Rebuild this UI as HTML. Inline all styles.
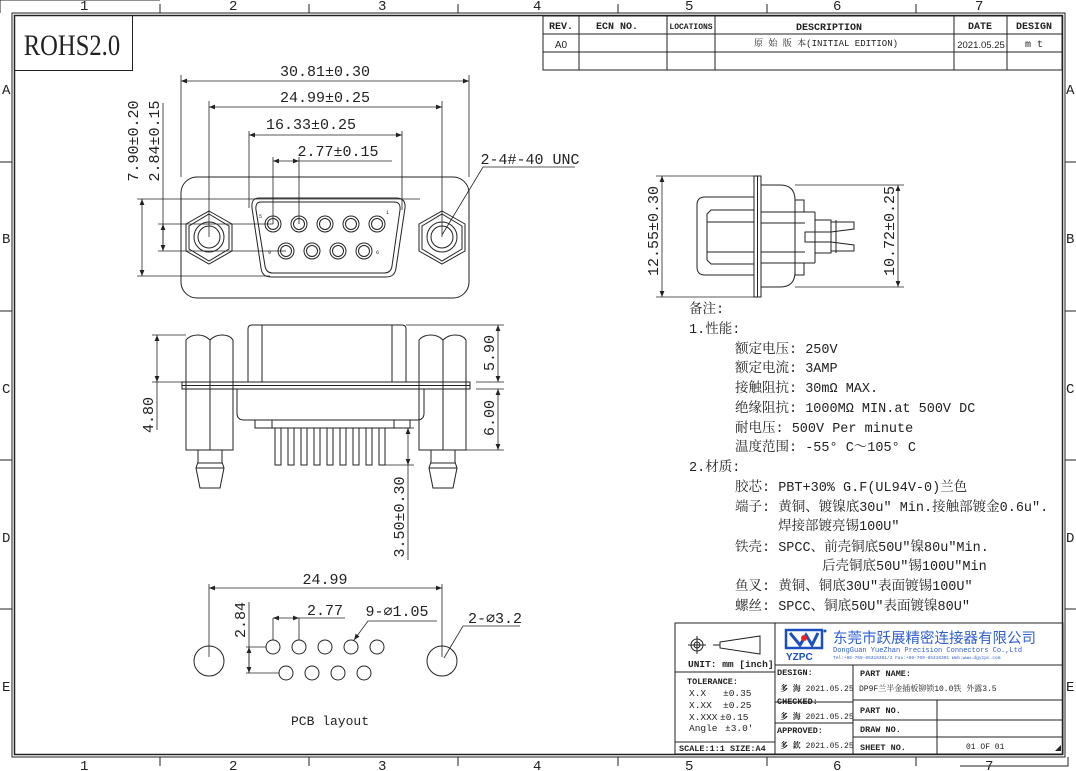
<!DOCTYPE html>
<html><head><meta charset="utf-8"><style>
html,body{margin:0;padding:0;background:#fff;}
svg{display:block;}
text{font-family:"Liberation Mono","Noto Serif CJK SC",monospace;fill:#222;}
.s{fill:none;stroke:#222;stroke-width:1;}
.t{fill:none;stroke:#222;stroke-width:0.8;}
.b{font-family:"Liberation Serif","Noto Serif CJK SC",serif;font-weight:bold;}
.a{font-family:"Liberation Sans","Noto Sans CJK SC",sans-serif;}
</style></head><body>
<svg width="1076" height="771" viewBox="0 0 1076 771" xmlns="http://www.w3.org/2000/svg">
<defs>
<marker id="ar" viewBox="0 0 10 10" refX="10" refY="5" markerWidth="9" markerHeight="6" orient="auto-start-reverse" markerUnits="userSpaceOnUse"><path d="M0,1 L10,5 L0,9 z" fill="#222"/></marker>
</defs>
<!-- frame -->
<g class="s">
<polyline points="0,0 0,13 "/>
<rect x="12" y="13" width="1053" height="744"/>
<rect x="14.5" y="15.5" width="1048" height="739" stroke-width="1.5"/>
<line x1="0" y1="0" x2="160" y2="0"/>
<!-- top ticks -->
<line x1="160" y1="4" x2="160" y2="13"/><line x1="309" y1="4" x2="309" y2="13"/><line x1="458" y1="4" x2="458" y2="13"/><line x1="618" y1="4" x2="618" y2="13"/><line x1="767" y1="4" x2="767" y2="13"/><line x1="916" y1="4" x2="916" y2="13"/>
<line x1="160" y1="757" x2="160" y2="766"/><line x1="309" y1="757" x2="309" y2="766"/><line x1="458" y1="757" x2="458" y2="766"/><line x1="618" y1="757" x2="618" y2="766"/><line x1="767" y1="757" x2="767" y2="766"/><line x1="916" y1="757" x2="916" y2="766"/>
<line x1="0" y1="162" x2="12" y2="162"/><line x1="0" y1="311" x2="12" y2="311"/><line x1="0" y1="460" x2="12" y2="460"/><line x1="0" y1="609" x2="12" y2="609"/>
<line x1="1065" y1="162" x2="1076" y2="162"/><line x1="1065" y1="311" x2="1076" y2="311"/><line x1="1065" y1="460" x2="1076" y2="460"/><line x1="1065" y1="609" x2="1076" y2="609"/>
<polyline points="960,766 1068,766 1068,757"/>
</g>
<g class="a" font-size="14">
<text x="80" y="10">1</text><text x="229" y="10">2</text><text x="378" y="10">3</text><text x="533" y="10">4</text><text x="685" y="10">5</text><text x="833" y="10">6</text><text x="975" y="10">7</text>
<text x="80" y="770">1</text><text x="229" y="770">2</text><text x="378" y="770">3</text><text x="533" y="770">4</text><text x="685" y="770">5</text><text x="833" y="770">6</text><text x="985" y="770">7</text>
<text x="2" y="94">A</text><text x="2" y="243">B</text><text x="2" y="393">C</text><text x="2" y="542">D</text><text x="2" y="691">E</text>
<text x="1066" y="94">A</text><text x="1066" y="243">B</text><text x="1066" y="393">C</text><text x="1066" y="542">D</text><text x="1066" y="691">E</text>
</g>
<!-- ROHS -->
<rect x="14.5" y="15.5" width="118" height="55" class="s"/>
<text x="24" y="55" font-family="Liberation Serif" font-size="30" transform="scale(0.82,1)" style="font-family:'Liberation Serif',serif" dx="5">ROHS2.0</text>
<!-- revision table -->
<g class="s">
<rect x="543" y="16" width="519" height="54"/>
<line x1="543" y1="34" x2="1062" y2="34"/><line x1="543" y1="52" x2="1062" y2="52"/>
<line x1="579" y1="16" x2="579" y2="70"/><line x1="667" y1="16" x2="667" y2="70"/><line x1="715" y1="16" x2="715" y2="70"/><line x1="954" y1="16" x2="954" y2="70"/><line x1="1007" y1="16" x2="1007" y2="70"/>
</g>
<g class="b" font-size="10" text-anchor="middle">
<text x="561" y="29">REV.</text><text x="617" y="29">ECN NO.</text><text x="691" y="29" font-size="8">LOCATIONS</text><text x="829" y="30">DESCRIPTION</text><text x="980" y="29">DATE</text><text x="1034" y="29">DESIGN</text>
</g>
<text x="561" y="48" class="a" font-size="10" text-anchor="middle">A0</text>
<text x="826" y="46" font-size="9" text-anchor="middle" fill="#555">原 始 版 本(INITIAL EDITION)</text>
<text x="981" y="48" class="a" font-size="9.5" text-anchor="middle">2021.05.25</text>
<text x="1034" y="47" font-size="10" text-anchor="middle">m  t</text>

<!-- TOP FRONT VIEW -->
<g class="s">
<rect x="181" y="177" width="288" height="121" rx="16"/>
<path d="M259,198 L396,198 Q406,198 405,208 L396,268 Q395,277 386,277 L271,277 Q262,277 261,268 L252,208 Q251,198 259,198 Z"/>
<path d="M261,202 L394,202 Q401,202 400,210 L392,266 Q391,273 384,273 L273,273 Q266,273 265,266 L256,210 Q255,202 261,202 Z"/>
<g id="hexL"><polygon points="209,211 232,224 232,251 209,264 186,251 186,224"/><polygon points="209,214 229,226 229,249 209,261 189,249 189,226"/><circle cx="209" cy="237" r="15"/><circle cx="209" cy="237" r="11"/></g>
<polygon points="442,211 465,224 465,251 442,264 419,251 419,224"/><polygon points="442,214 462,226 462,249 442,261 422,249 422,226"/><circle cx="442" cy="237" r="15"/><circle cx="442" cy="237" r="11"/>
<circle cx="273" cy="224" r="8"/><circle cx="273" cy="224" r="5.5"/>
<circle cx="299" cy="224" r="8"/><circle cx="299" cy="224" r="5.5"/>
<circle cx="325" cy="224" r="8"/><circle cx="325" cy="224" r="5.5"/>
<circle cx="351" cy="224" r="8"/><circle cx="351" cy="224" r="5.5"/>
<circle cx="377" cy="224" r="8"/><circle cx="377" cy="224" r="5.5"/>
<circle cx="286" cy="251" r="8"/><circle cx="286" cy="251" r="5.5"/>
<circle cx="312" cy="251" r="8"/><circle cx="312" cy="251" r="5.5"/>
<circle cx="338" cy="251" r="8"/><circle cx="338" cy="251" r="5.5"/>
<circle cx="364" cy="251" r="8"/><circle cx="364" cy="251" r="5.5"/>
</g>
<g font-size="5" fill="#888"><text x="259" y="218">5</text><text x="386" y="214">1</text><text x="268" y="254">9</text><text x="376" y="254">6</text></g>
<g class="t">
<line x1="181" y1="75" x2="181" y2="177"/><line x1="469" y1="75" x2="469" y2="177"/>
<line x1="181" y1="81" x2="469" y2="81" marker-start="url(#ar)" marker-end="url(#ar)"/>
<line x1="209" y1="101" x2="209" y2="237"/><line x1="442" y1="101" x2="442" y2="237"/>
<line x1="209" y1="107" x2="442" y2="107" marker-start="url(#ar)" marker-end="url(#ar)"/>
<line x1="249" y1="131" x2="249" y2="208"/><line x1="402" y1="131" x2="402" y2="210"/>
<line x1="249" y1="135" x2="402" y2="135" marker-start="url(#ar)" marker-end="url(#ar)"/>
<line x1="273" y1="157" x2="273" y2="224"/><line x1="299" y1="157" x2="299" y2="224"/>
<line x1="273" y1="161" x2="299" y2="161" marker-start="url(#ar)" marker-end="url(#ar)"/>
<line x1="299" y1="161" x2="392" y2="161"/>
<line x1="137" y1="199" x2="420" y2="199"/><line x1="137" y1="276" x2="270" y2="276"/>
<line x1="142" y1="199" x2="142" y2="276" marker-start="url(#ar)" marker-end="url(#ar)"/>
<line x1="158" y1="224" x2="273" y2="224"/><line x1="158" y1="251" x2="286" y2="251"/>
<line x1="163" y1="103" x2="163" y2="251"/>
<line x1="163" y1="224" x2="163" y2="251" marker-start="url(#ar)" marker-end="url(#ar)"/>
<polyline points="442,235 483,167 575,167"/>
</g>
<g font-size="15" text-anchor="middle">
<text x="325" y="76">30.81±0.30</text>
<text x="325" y="102">24.99±0.25</text>
<text x="311" y="129">16.33±0.25</text>
<text x="338" y="156">2.77±0.15</text>
<text x="530" y="164">2-4#-40 UNC</text>
<text transform="translate(138,141) rotate(-90)">7.90±0.20</text>
<text transform="translate(159,141) rotate(-90)">2.84±0.15</text>
</g>

<!-- SIDE VIEW -->
<g class="s">
<rect x="754" y="176" width="7" height="121"/><line x1="757.5" y1="176" x2="757.5" y2="297"/>
<path d="M754,197 L705,197 Q697,197 697,205 L697,267 Q697,275 705,275 L754,275"/>
<path d="M754,210 L711,210 L707,214 L707,260 L711,264 L754,264"/>
<line x1="707" y1="222" x2="754" y2="222"/><line x1="707" y1="252" x2="754" y2="252"/>
<path d="M761,185 L780,185 Q795,185 795,200 L795,272 Q795,287 780,287 L761,287"/>
<rect x="795" y="200" width="9" height="12"/><rect x="795" y="263" width="9" height="12"/>
<line x1="761" y1="212" x2="815" y2="212"/><line x1="761" y1="263" x2="815" y2="263"/>
<line x1="815" y1="212" x2="815" y2="263"/>
<line x1="761" y1="223" x2="805" y2="223"/><line x1="761" y1="252" x2="805" y2="252"/>
<rect x="805" y="232" width="26" height="10"/>
<polyline points="815,220 831,220 831,222 854,222 854,229 831,232"/>
<polyline points="815,253 831,253 831,251 854,251 854,245 831,242"/>
<line x1="831" y1="220" x2="831" y2="253"/><line x1="836" y1="220" x2="836" y2="253"/>
</g>
<g class="t">
<line x1="656" y1="176" x2="754" y2="176"/><line x1="656" y1="297" x2="754" y2="297"/>
<line x1="662" y1="176" x2="662" y2="297" marker-start="url(#ar)" marker-end="url(#ar)"/>
<line x1="795" y1="185" x2="904" y2="185"/><line x1="795" y1="287" x2="904" y2="287"/>
<line x1="898" y1="185" x2="898" y2="287" marker-start="url(#ar)" marker-end="url(#ar)"/>
</g>
<g font-size="15" text-anchor="middle">
<text transform="translate(658,231) rotate(-90)">12.55±0.30</text>
<text transform="translate(894,231) rotate(-90)">10.72±0.25</text>
</g>

<!-- ELEVATION VIEW -->
<g class="s">
<rect x="182" y="382" width="288" height="7"/><line x1="182" y1="385.5" x2="470" y2="385.5"/>
<path d="M248,382 L248,329 Q248,325 252,325 L402,325 Q406,325 406,329 L406,382"/>
<line x1="262" y1="325" x2="262" y2="382"/><line x1="392" y1="325" x2="392" y2="382"/>
<path d="M237,389 L237,413 Q237,420 244,420 L417,420 Q424,420 424,413 L424,389"/>
<rect x="255" y="420" width="155" height="8"/><line x1="272" y1="420" x2="272" y2="428"/><line x1="394" y1="420" x2="394" y2="428"/>
<g id="pins">
<rect x="275" y="428" width="6" height="37"/><rect x="288" y="428" width="6" height="37"/><rect x="301" y="428" width="6" height="37"/><rect x="314" y="428" width="6" height="37"/><rect x="327" y="428" width="6" height="37"/><rect x="340" y="428" width="6" height="37"/><rect x="353" y="428" width="6" height="37"/><rect x="366" y="428" width="6" height="37"/><rect x="379" y="428" width="6" height="37"/>
</g>
<path d="M186,450 L186,340 Q190,335 198,335 Q205,335 210,340 Q215,335 222,335 Q230,335 233,340 L233,450 Z"/>
<line x1="210" y1="340" x2="210" y2="450"/>
<path d="M198,450 L198,462 L196,468 L200,488 L220,488 L224,468 L222,462 L222,450"/><line x1="196" y1="468" x2="224" y2="468"/><line x1="198" y1="463" x2="222" y2="463"/>
<path d="M419,450 L419,340 Q423,335 431,335 Q438,335 443,340 Q448,335 455,335 Q463,335 466,340 L466,450 Z"/>
<line x1="443" y1="340" x2="443" y2="450"/>
<path d="M431,450 L431,462 L429,468 L433,488 L453,488 L457,468 L455,462 L455,450"/><line x1="429" y1="468" x2="457" y2="468"/><line x1="431" y1="463" x2="455" y2="463"/>
</g>
<g class="t">
<line x1="152" y1="335" x2="186" y2="335"/><line x1="152" y1="382" x2="182" y2="382"/>
<line x1="157" y1="335" x2="157" y2="382" marker-start="url(#ar)" marker-end="url(#ar)"/>
<line x1="157" y1="382" x2="157" y2="430"/>
<line x1="406" y1="325" x2="504" y2="325"/><line x1="476" y1="382" x2="504" y2="382"/><line x1="476" y1="389" x2="504" y2="389"/><line x1="466" y1="450" x2="504" y2="450"/>
<line x1="498" y1="325" x2="498" y2="382" marker-start="url(#ar)" marker-end="url(#ar)"/>
<line x1="498" y1="389" x2="498" y2="450" marker-start="url(#ar)" marker-end="url(#ar)"/>
<line x1="410" y1="428" x2="414" y2="428"/><line x1="385" y1="465" x2="414" y2="465"/>
<line x1="408" y1="428" x2="408" y2="465" marker-start="url(#ar)" marker-end="url(#ar)"/>
<line x1="408" y1="465" x2="408" y2="560"/>
</g>
<g font-size="15" text-anchor="middle">
<text transform="translate(153,415) rotate(-90)">4.80</text>
<text transform="translate(494,353) rotate(-90)">5.90</text>
<text transform="translate(494,418) rotate(-90)">6.00</text>
<text transform="translate(404,517) rotate(-90)">3.50±0.30</text>
</g>

<!-- PCB LAYOUT -->
<g class="s">
<circle cx="209" cy="661" r="15"/><circle cx="442" cy="661" r="15"/>
<circle cx="273" cy="647" r="7"/><circle cx="299" cy="647" r="7"/><circle cx="325" cy="647" r="7"/><circle cx="351" cy="647" r="7"/><circle cx="377" cy="647" r="7"/>
<circle cx="286" cy="673" r="7"/><circle cx="312" cy="673" r="7"/><circle cx="338" cy="673" r="7"/><circle cx="364" cy="673" r="7"/>
</g>
<g class="t">
<line x1="209" y1="584" x2="209" y2="657"/><line x1="442" y1="584" x2="442" y2="657"/>
<line x1="209" y1="588" x2="442" y2="588" marker-start="url(#ar)" marker-end="url(#ar)"/>
<line x1="249" y1="602" x2="249" y2="673"/>
<line x1="249" y1="647" x2="249" y2="673" marker-start="url(#ar)" marker-end="url(#ar)"/>
<line x1="246" y1="647" x2="266" y2="647"/><line x1="246" y1="673" x2="279" y2="673"/>
<line x1="273" y1="618" x2="273" y2="640"/><line x1="299" y1="618" x2="299" y2="640"/>
<line x1="273" y1="618" x2="299" y2="618" marker-start="url(#ar)" marker-end="url(#ar)"/>
<line x1="299" y1="618" x2="345" y2="618"/>
<polyline points="437,621 368,621 354,640" marker-end="url(#ar)"/>
<polyline points="520,626 463,626 444,658"/>
</g>
<g font-size="15" text-anchor="middle">
<text x="325" y="584">24.99</text>
<text x="325" y="615">2.77</text>
<text x="397" y="616">9-⌀1.05</text>
<text x="495" y="623">2-⌀3.2</text>
<text transform="translate(245,620) rotate(-90)">2.84</text>
<text x="330" y="725" font-size="13">PCB layout</text>
</g>

<!-- NOTES -->
<g font-size="13.5">
<text x="689" y="313">备注:</text>
<text x="689" y="333">1.性能:</text>
<text x="735" y="353">额定电压: 250V</text>
<text x="735" y="372">额定电流: 3AMP</text>
<text x="735" y="392">接触阻抗: 30mΩ MAX.</text>
<text x="735" y="412">绝缘阻抗: 1000MΩ MIN.at 500V DC</text>
<text x="735" y="432">耐电压: 500V Per minute</text>
<text x="735" y="451">温度范围: -55° C～105° C</text>
<text x="689" y="471">2.材质:</text>
<text x="735" y="491">胶芯: PBT+30% G.F(UL94V-0)兰色</text>
<text x="735" y="511">端子: 黄铜、镀镍底30u" Min.接触部镀金0.6u".</text>
<text x="778" y="530">焊接部镀亮锡100U"</text>
<text x="735" y="551">铁壳: SPCC、前壳铜底50U"镍80u"Min.</text>
<text x="822" y="570">后壳铜底50U"锡100U"Min</text>
<text x="735" y="590">鱼叉: 黄铜、铜底30U"表面镀锡100U"</text>
<text x="735" y="610">螺丝: SPCC、铜底50U"表面镀镍80U"</text>
</g>

<!-- TITLE BLOCK -->
<g class="s">
<rect x="675" y="623" width="388" height="131"/>
<line x1="775" y1="623" x2="775" y2="754"/>
<line x1="675" y1="672" x2="775" y2="672"/><line x1="675" y1="742" x2="775" y2="742"/>
<line x1="775" y1="665" x2="1063" y2="665"/>
<line x1="853" y1="665" x2="853" y2="754"/>
<line x1="775" y1="702" x2="853" y2="702"/><line x1="775" y1="723" x2="853" y2="723"/>
<line x1="853" y1="700" x2="1063" y2="700"/><line x1="853" y1="720" x2="1063" y2="720"/><line x1="853" y1="737" x2="1063" y2="737"/>
<line x1="937" y1="700" x2="937" y2="754"/>
<circle cx="697" cy="645" r="6"/><circle cx="697" cy="645" r="3"/><line x1="688" y1="645" x2="706" y2="645"/><line x1="697" y1="636" x2="697" y2="654"/>
<polygon points="720,642 760,636 760,654 720,648"/><line x1="713" y1="645" x2="720" y2="645"/>
</g>
<polygon points="1055,751 1061,745 1061,751" fill="#222"/>
<g class="b" font-size="9.5">
<text x="688" y="667">UNIT: mm [inch]</text>
<text x="687" y="684" font-size="8.5">TOLERANCE:</text>
<text x="679" y="751" font-size="8.5">SCALE:1:1  SIZE:A4</text>
<text x="777" y="675" font-size="8.5">DESIGN:</text>
<text x="777" y="704" font-size="8.5">CHECKED:</text>
<text x="777" y="733" font-size="8.5">APPROVED:</text>
<text x="860" y="676" font-size="8.5">PART NAME:</text>
<text x="860" y="713" font-size="8.5">PART NO.</text>
<text x="860" y="732" font-size="8.5">DRAW NO.</text>
<text x="860" y="750" font-size="8.5">SHEET NO.</text>
</g>
<g class="a" font-size="9.5">
<text x="689" y="696">X.X</text><text x="723" y="696">±0.35</text>
<text x="689" y="708">X.XX</text><text x="723" y="708">±0.25</text>
<text x="689" y="720">X.XXX</text><text x="720" y="720">±0.15</text>
<text x="689" y="731">Angle</text><text x="725" y="731">±3.0'</text>
</g>
<g font-size="8" fill="#444">
<text x="780" y="691"><tspan font-weight="bold" fill="#111">多 海</tspan> 2021.05.25</text>
<text x="780" y="719"><tspan font-weight="bold" fill="#111">多 海</tspan> 2021.05.25</text>
<text x="780" y="748"><tspan font-weight="bold" fill="#111">多 欽</tspan> 2021.05.25</text>
<text x="859" y="691">DP9F兰半金插板铆锁10.0铁 外露3.5</text>
<text x="966" y="749">01 OF 01</text>
</g>
<!-- logo -->
<rect x="786" y="630" width="36" height="18" fill="#fff" stroke="#1a4fbf" stroke-width="2.5"/>
<polyline points="790,633 800,645 806,635 812,645 818,633" fill="none" stroke="#1a4fbf" stroke-width="3"/>
<circle cx="804" cy="638" r="3" fill="#e22"/>
<circle cx="825" cy="631" r="1.5" fill="#1a4fbf"/>
<text x="786" y="660" class="a" font-size="10" font-weight="bold" fill="#1a4fbf" style="fill:#1a4fbf">YZPC</text>
<text x="833" y="643" font-size="14.5" style="fill:#2e5ed0;font-family:'Noto Sans CJK SC',sans-serif">东莞市跃展精密连接器有限公司</text>
<text x="833" y="652" font-size="7" style="fill:#2e5ed0">DongGuan YueZhan Precision Connectors Co.,Ltd</text>
<text x="833" y="659" font-size="4.5" style="fill:#2e5ed0">Tel:+86-769-85316381/2  Fax:+86-769-85316391  Web:www.dgyzpc.com</text>
</svg>
</body></html>
